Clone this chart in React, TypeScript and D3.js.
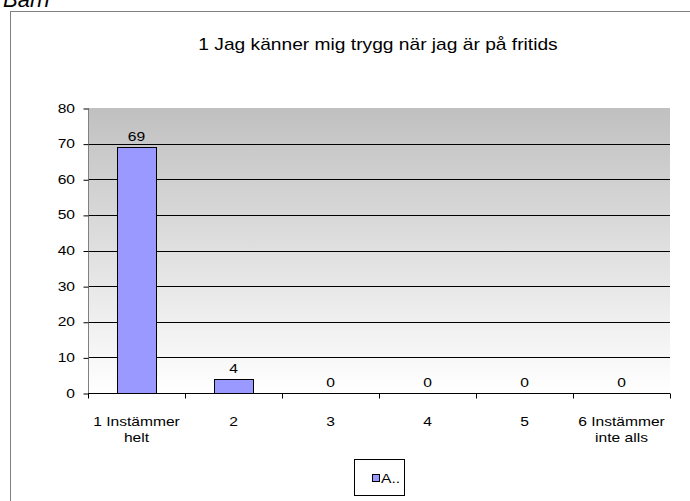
import React, { useEffect, useRef } from 'react';
import * as d3 from 'd3';

const categories = ['1 Instämmer|helt', '2', '3', '4', '5', '6 Instämmer|inte alls'];
const values = [69, 4, 0, 0, 0, 0];
const yTicks = [0, 10, 20, 30, 40, 50, 60, 70, 80];
const title = '1 Jag känner mig trygg när jag är på fritids';
const seriesName = 'A..';

const FONT = 'Liberation Sans, Arial, sans-serif';
const SX = 1.2; // the original text is a little stretched sideways

const App = () => {
    const ref = useRef<SVGSVGElement>(null);

    useEffect(() => {
        const svg = d3.select(ref.current);
        svg.selectAll('*').remove();

        const left = 88, right = 670, top = 108, bottom = 393;

        const x = d3.scaleBand().domain(categories).range([left, right]).paddingInner(0).paddingOuter(0);
        const y = d3.scaleLinear().domain([0, 80]).range([bottom, top]);

        // put a stretched text at (tx, ty)
        const label = (tx: number, ty: number, txt: string, size: number, anchor = 'middle') =>
            svg.append('text')
                .attr('transform', `translate(${tx},${ty}) scale(${SX},1)`)
                .attr('text-anchor', anchor)
                .attr('font-family', FONT)
                .attr('font-size', size)
                .attr('fill', 'black')
                .text(txt);

        // "Barn" heading, mostly cut off at the top like the original
        svg.append('text')
            .attr('x', 3).attr('y', 7)
            .attr('font-family', FONT)
            .attr('font-style', 'italic')
            .attr('font-size', 22)
            .text('Barn');

        // chart frame
        svg.append('rect')
            .attr('x', 10.5).attr('y', 11.5)
            .attr('width', 700).attr('height', 520)
            .attr('fill', 'white').attr('stroke', '#808080');

        const defs = svg.append('defs');
        const grad = defs.append('linearGradient')
            .attr('id', 'bg').attr('x1', 0).attr('y1', 0).attr('x2', 0).attr('y2', 1);
        grad.append('stop').attr('offset', '0%').attr('stop-color', '#c0c0c0');
        grad.append('stop').attr('offset', '100%').attr('stop-color', '#ffffff');

        svg.append('rect')
            .attr('x', left).attr('y', top)
            .attr('width', right - left).attr('height', bottom - top)
            .attr('fill', 'url(#bg)');

        // gridlines
        svg.selectAll('line.grid')
            .data(yTicks.filter(d => d > 0 && d < 80))
            .enter()
            .append('line')
            .attr('x1', left).attr('x2', right)
            .attr('y1', d => Math.round(y(d)) + 0.5).attr('y2', d => Math.round(y(d)) + 0.5)
            .attr('stroke', 'black');

        // y axis
        const yAxis = d3.axisLeft(y).tickValues(yTicks).tickSize(5).tickFormat(() => '');
        const gy = svg.append('g').attr('transform', `translate(${left + 0.5},0.5)`).call(yAxis);
        gy.select('.domain').attr('stroke', '#808080').attr('d', `M0,${top}V${bottom}`);
        gy.selectAll('.tick line').attr('stroke', 'black');
        yTicks.forEach(t => label(75, y(t) + 4.5, String(t), 13, 'end'));

        // bars
        const bw = 39;
        svg.selectAll('rect.bar')
            .data(values.map((v, i) => ({ v, c: categories[i] })).filter(d => d.v > 0))
            .enter()
            .append('rect')
            .attr('x', d => Math.round(x(d.c)! + (x.bandwidth() - bw) / 2) + 0.5)
            .attr('y', d => Math.round(y(d.v)) + 0.5)
            .attr('width', bw)
            .attr('height', d => Math.round(y(0)) - Math.round(y(d.v)))
            .attr('fill', '#9999ff')
            .attr('stroke', 'black');

        // x axis
        const xAxis = d3.axisBottom(x).tickValues([]).tickSize(0);
        const gx = svg.append('g').attr('transform', `translate(0,${bottom + 0.5})`).call(xAxis);
        gx.select('.domain').attr('stroke', 'black').attr('d', `M${left},0H${right}`);
        const tickXs = d3.range(categories.length + 1).map(i => left + i * x.bandwidth());
        gx.selectAll('line.tk')
            .data(tickXs)
            .enter()
            .append('line')
            .attr('x1', d => Math.round(d) + 0.5).attr('x2', d => Math.round(d) + 0.5)
            .attr('y1', 0).attr('y2', 5)
            .attr('stroke', 'black');

        // category labels
        categories.forEach(c => {
            c.split('|').forEach((line, k) => {
                label(x(c)! + x.bandwidth() / 2, 426 + k * 16, line, 13);
            });
        });

        // value labels
        values.forEach((v, i) => {
            label(x(categories[i])! + x.bandwidth() / 2, y(v) - 6, String(v), 13);
        });

        // title
        label(378, 50, title, 16);

        // legend
        svg.append('rect')
            .attr('x', 354.5).attr('y', 459.5).attr('width', 50).attr('height', 36)
            .attr('fill', 'white').attr('stroke', 'black');
        svg.append('rect')
            .attr('x', 372.5).attr('y', 474.5).attr('width', 7).attr('height', 7)
            .attr('fill', '#9999ff').attr('stroke', 'black');
        label(381, 483, seriesName, 13, 'start');
    }, []);

    return (
        <svg ref={ref} width={690} height={501}
            style={{ position: 'absolute', left: 0, top: 0, background: 'white' }}></svg>
    );
};

export default App;
